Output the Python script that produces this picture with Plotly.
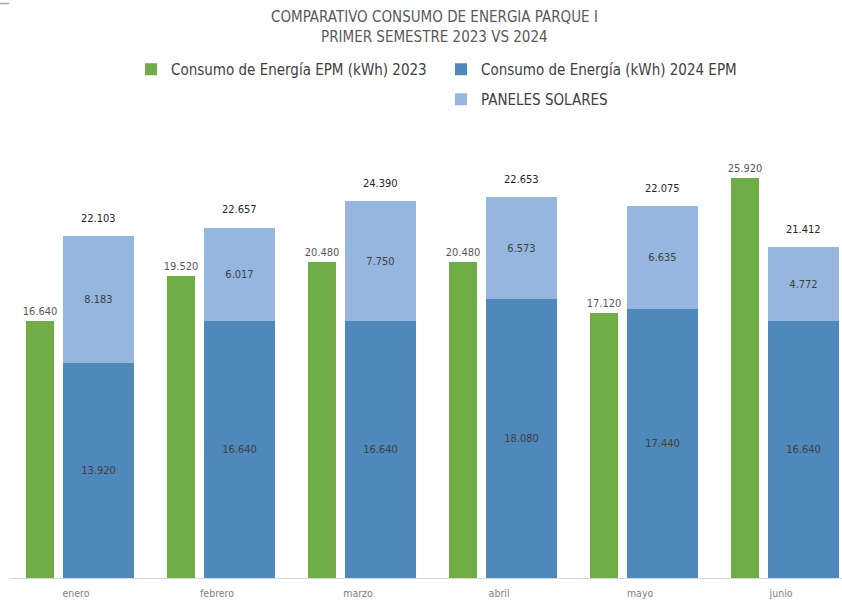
import plotly.graph_objects as go

months = ["enero", "febrero", "marzo", "abril", "mayo", "junio"]
epm_2023 = [16640, 19520, 20480, 20480, 17120, 25920]
epm_2024 = [13920, 16640, 16640, 18080, 17440, 16640]
solares = [8183, 6017, 7750, 6573, 6635, 4772]
total_labels = ["22.103", "22.657", "24.390", "22.653", "22.075", "21.412"]

GREEN = "#70AD47"
BLUE = "#4F88BB"
LIGHT = "#95B7DF"
FONT = "DejaVu Sans Condensed, Liberation Sans Narrow, sans-serif"

PLOT_W = 832
PLOT_H = 428


def fmt(v):
    return f"{v:,}".replace(",", ".")


def px(sx):
    # pixel x -> paper x (plot area starts at x = 10)
    return (sx - 10) / PLOT_W


def py(sy):
    # pixel y -> paper y (plot bottom at y = 578)
    return (578 - sy) / PLOT_H


fig = go.Figure()
fig.add_trace(go.Bar(
    x=months, y=epm_2023, name="Consumo de Energía EPM (kWh) 2023",
    marker=dict(color=GREEN, line=dict(width=0)),
    width=0.2, offset=-0.355,
    text=[fmt(v) for v in epm_2023], textposition="outside",
    constraintext="none",
    textfont=dict(size=11, color="#595959", family=FONT),
    cliponaxis=False, legend="legend",
))
fig.add_trace(go.Bar(
    x=months, y=epm_2024, name="Consumo de Energía (kWh) 2024 EPM",
    marker=dict(color=BLUE, line=dict(width=0)),
    width=0.5, offset=-0.09,
    text=[fmt(v) for v in epm_2024], textposition="inside",
    insidetextanchor="middle", textangle=0, constraintext="none",
    textfont=dict(size=11, color="#404040", family=FONT),
    legend="legend",
))
fig.add_trace(go.Bar(
    x=months, y=solares, base=epm_2024, name="PANELES SOLARES",
    marker=dict(color=LIGHT, line=dict(width=0)),
    width=0.5, offset=-0.09,
    text=[fmt(v) for v in solares], textposition="inside",
    insidetextanchor="middle", textangle=0, constraintext="none",
    textfont=dict(size=11, color="#404040", family=FONT),
    legend="legend2",
))

annotations = []
for m, b, s, lab in zip(months, epm_2024, solares, total_labels):
    annotations.append(dict(
        x=m, y=b + s, xref="x", yref="y", text=lab, showarrow=False,
        xshift=0.16 * 141, yshift=18,
        font=dict(size=11, color="#262626", family=FONT),
    ))
annotations.append(dict(
    text="COMPARATIVO CONSUMO DE ENERGIA PARQUE I",
    xref="paper", yref="paper", x=px(434), y=py(17),
    xanchor="center", yanchor="middle", showarrow=False,
    font=dict(size=15, color="#595959", family=FONT),
))
annotations.append(dict(
    text="PRIMER SEMESTRE 2023 VS 2024",
    xref="paper", yref="paper", x=px(434), y=py(37),
    xanchor="center", yanchor="middle", showarrow=False,
    font=dict(size=15, color="#595959", family=FONT),
))

fig.update_layout(
    width=842, height=601,
    margin=dict(l=10, r=0, t=150, b=23),
    paper_bgcolor="white", plot_bgcolor="white",
    barmode="overlay",
    bargap=0,
    font=dict(family=FONT, color="#595959"),
    xaxis=dict(
        range=[-0.468, 5.432], showgrid=False, zeroline=False,
        showline=True, linecolor="#D9D9D9", linewidth=1, ticks="",
        tickfont=dict(size=10.5, color="#7F7F7F", family=FONT),
        ticklabelstandoff=5, automargin=False,
    ),
    yaxis=dict(range=[0, 27700], visible=False, showgrid=False,
               zeroline=False, automargin=False),
    legend=dict(
        orientation="h", x=px(131), y=py(53),
        xanchor="left", yanchor="top",
        entrywidth=265, entrywidthmode="pixels",
        font=dict(size=15, color="#404040", family=FONT),
        bgcolor="rgba(0,0,0,0)",
    ),
    legend2=dict(
        orientation="h", x=px(131 + 310), y=py(83),
        xanchor="left", yanchor="top",
        font=dict(size=15, color="#404040", family=FONT),
        bgcolor="rgba(0,0,0,0)",
    ),
    shapes=[dict(type="line", xref="paper", yref="paper",
                 x0=px(0), x1=px(9), y0=py(3.5), y1=py(3.5),
                 line=dict(color="#8FAADC", width=1.5))],
    annotations=annotations,
    showlegend=True,
)

fig.write_html(
    "out.html",
    config={"displayModeBar": False},
    post_script="document.body.style.margin='0';document.body.style.overflow='hidden';",
)
